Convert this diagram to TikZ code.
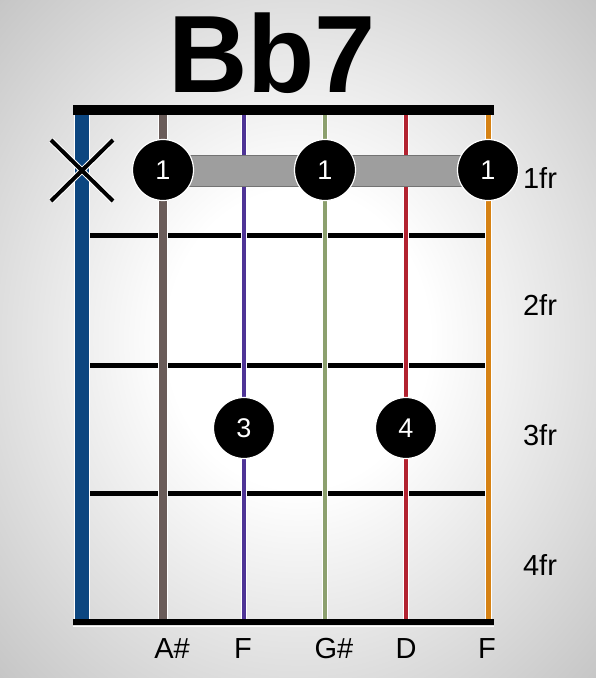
\documentclass[tikz,border=0pt]{standalone}
\usepackage{fontspec}
\setmainfont{Liberation Sans}
\pgfdeclareradialshading{vignette}{\pgfpoint{0bp}{0bp}}{color(0bp)=(white); color(11bp)=(white); color(35bp)=(black!22); color(50bp)=(black!46)}
\definecolor{sblue}{RGB}{12,70,128}
\definecolor{sbrown}{RGB}{106,92,89}
\definecolor{spurple}{RGB}{78,52,150}
\definecolor{sgreen}{RGB}{140,160,110}
\definecolor{sred}{RGB}{178,34,48}
\definecolor{sorange}{RGB}{214,130,20}
\newcommand{\guitarstring}[3]{%
  \draw[white, line width=#2+2] (#1,115) -- (#1,619);
  \draw[#3, line width=#2] (#1,115) -- (#1,619);}
\begin{document}
\begin{tikzpicture}[x=1pt,y=-1pt,
  fretline/.style={black, line width=5},
  dot/.style={circle, fill=black, draw=white, line width=1.2, minimum size=61, inner sep=0, text=white, font=\fontsize{27}{27}\selectfont},
  lbl/.style={text=black, font=\fontsize{29}{29}\selectfont, inner sep=0},
  title/.style={font=\fontsize{110}{110}\selectfont\bfseries, inner sep=0}]
\useasboundingbox (0,0) rectangle (596,678);
\shade[shading=vignette] (0,0) rectangle (596,678);
% title
\node[title, anchor=base] (title) at (272,92) {Bb7};
% frets
\foreach \y/\n in {235/f1,365/f2,493/f3}{
  \coordinate (\n a) at (89,\y);
  \coordinate (\n b) at (488,\y);
  \draw[fretline] (\n a) -- (\n b);
}
% strings
\guitarstring{82}{14}{sblue}
\guitarstring{163}{8}{sbrown}
\guitarstring{244}{4}{spurple}
\guitarstring{325}{4}{sgreen}
\guitarstring{406}{4}{sred}
\guitarstring{488}{5}{sorange}
% nut and bottom
\fill[black] (73,105) rectangle (494,115);
\draw[white, line width=1] (73,626) -- (494,626);
\fill[black] (73,619) rectangle (494,625);
% barre
\fill[black!38, draw=black!55, line width=0.6] (163,155) rectangle (488,186);
% muted string X
\draw[white, line width=6] (51,140) -- (113,201);
\draw[white, line width=6] (113,140) -- (51,201);
\draw[black, line width=4] (51,140) -- (113,201);
\draw[black, line width=4] (113,140) -- (51,201);
% finger dots
\node[dot] (d1) at (163,170) {1};
\node[dot] (d2) at (325,170) {1};
\node[dot] (d3) at (488,170) {1};
\node[dot] (d4) at (244,428) {3};
\node[dot] (d5) at (406,428) {4};
% fret labels
\node[lbl] (fr1) at (540,178) {1fr};
\node[lbl] (fr2) at (540,305) {2fr};
\node[lbl] (fr3) at (540,435) {3fr};
\node[lbl] (fr4) at (540,565) {4fr};
% note labels
\node[lbl, anchor=base] (n2) at (172,658) {A\#};
\node[lbl, anchor=base] (n3) at (243,658) {F};
\node[lbl, anchor=base] (n4) at (334,658) {G\#};
\node[lbl, anchor=base] (n5) at (406,658) {D};
\node[lbl, anchor=base] (n6) at (487,658) {F};
\end{tikzpicture}
\end{document}
